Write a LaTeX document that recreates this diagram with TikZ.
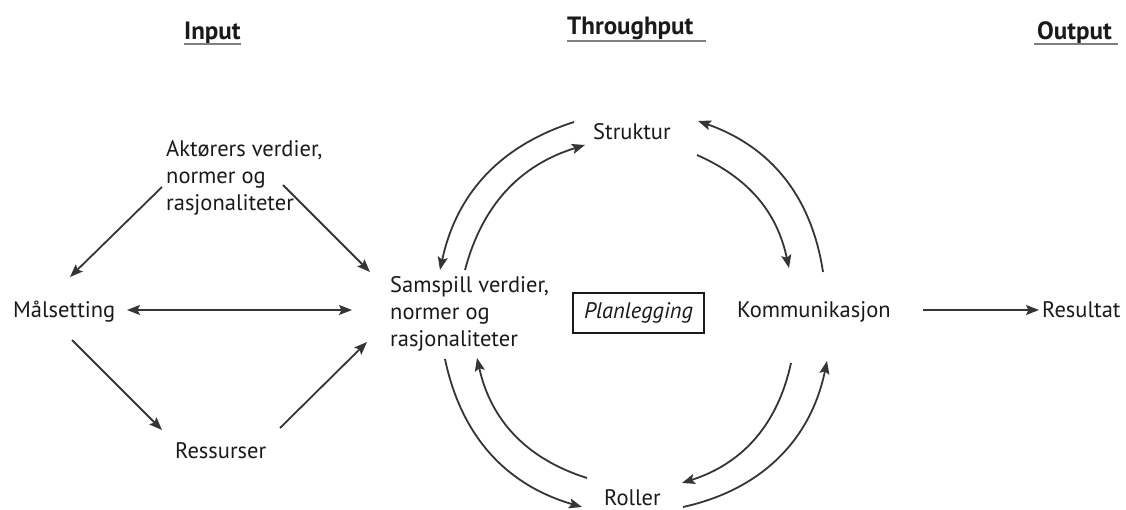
\documentclass[tikz,border=0pt]{standalone}
\usepackage{fontspec}
\setmainfont{PT Sans}
\usetikzlibrary{arrows.meta}
\definecolor{arrc}{HTML}{353535}
\definecolor{txtc}{HTML}{1A1A1A}
\definecolor{ulc}{HTML}{7F7F7F}
\tikzset{
  lbl/.style={inner sep=0pt, text=txtc, font=\fontsize{22.5}{27}\selectfont},
  ttl/.style={inner sep=0pt, text=txtc, font=\fontsize{25}{28}\selectfont\bfseries},
  uline/.style={draw=ulc, line width=1.8pt},
  arr/.style={draw=arrc, line width=1.8pt, -{Stealth[length=13pt,width=10pt,inset=2.5pt]}},
  darr/.style={draw=arrc, line width=1.8pt, {Stealth[length=13pt,width=10pt,inset=2.5pt]}-{Stealth[length=13pt,width=10pt,inset=2.5pt]}},
  pbox/.style={draw=txtc, line width=1.8pt, minimum width=131pt, minimum height=40pt, inner sep=0pt, text=txtc, font=\fontsize{22.5}{27}\selectfont\itshape}
}
\begin{document}
\begin{tikzpicture}[x=1pt,y=1pt]
\useasboundingbox (0,0) rectangle (1126,509);
% titles
\node[ttl, anchor=base west] (inp) at (184,469) {Input};
\node[ttl, anchor=base west] (thr) at (567,474) {Throughput};
\node[ttl, anchor=base west] (outp) at (1037,469) {Output};
\draw[uline] ([yshift=-4pt]inp.base west) -- ([yshift=-4pt]inp.base east);
\draw[uline] ([yshift=-6pt]thr.base west) -- ([yshift=-6pt,xshift=12pt]thr.base east);
\draw[uline] ([yshift=-4pt,xshift=-3pt]outp.base west) -- ([yshift=-4pt,xshift=6pt]outp.base east);
% nodes
\node[lbl, anchor=west, align=left] (akt) at (166,331) {Aktørers verdier,\\normer og\\rasjonaliteter};
\node[lbl, anchor=base west] (mal) at (13,191) {Målsetting};
\node[lbl, anchor=base west] (res) at (175,51) {Ressurser};
\node[lbl, anchor=west, align=left] (sam) at (390,195.5) {Samspill verdier,\\normer og\\rasjonaliteter};
\node[pbox] (plan) at (638.5,196) {Planlegging};
\node[lbl, anchor=base west] (str) at (593,369) {Struktur};
\node[lbl, anchor=base west] (kom) at (737,191) {Kommunikasjon};
\node[lbl, anchor=base west] (rst) at (1042,191) {Resultat};
\node[lbl, anchor=base west] (rol) at (604,4) {Roller};
% connector end points
\coordinate (a1s) at (162,322); \coordinate (a1e) at (70,232);
\coordinate (a2s) at (283,324); \coordinate (a2e) at (370,237);
\coordinate (d1) at (127,199);  \coordinate (d2) at (352,199);
\coordinate (m1s) at (72,169);  \coordinate (m1e) at (162,79);
\coordinate (r1s) at (280,81);  \coordinate (r1e) at (367,167);
\coordinate (s1s) at (574,387); \coordinate (s1e) at (440,239);
\coordinate (s2s) at (465,239); \coordinate (s2e) at (585,364);
\coordinate (s3s) at (697,354); \coordinate (s3e) at (789,241);
\coordinate (s4s) at (823,237); \coordinate (s4e) at (698,388);
\coordinate (s5s) at (445,150); \coordinate (s5e) at (582,2);
\coordinate (s6s) at (587,31);  \coordinate (s6e) at (477,151);
\coordinate (s7s) at (791,146); \coordinate (s7e) at (682,26);
\coordinate (s8s) at (683,2);   \coordinate (s8e) at (827,148);
\coordinate (k1s) at (923,199); \coordinate (k1e) at (1039,199);
% connectors
\draw[arr] (a1s) -- (a1e);
\draw[arr] (a2s) -- (a2e);
\draw[darr] (d1) -- (d2);
\draw[arr] (m1s) -- (m1e);
\draw[arr] (r1s) -- (r1e);
\draw[arr] (s1s) to[bend right=30] (s1e);
\draw[arr] (s2s) to[bend left=29] (s2e);
\draw[arr] (s3s) to[bend left=27] (s3e);
\draw[arr] (s4s) to[bend right=31] (s4e);
\draw[arr] (s5s) to[bend right=31] (s5e);
\draw[arr] (s6s) to[bend left=30] (s6e);
\draw[arr] (s7s) to[bend left=30] (s7e);
\draw[arr] (s8s) to[bend right=33] (s8e);
\draw[arr] (k1s) -- (k1e);
\end{tikzpicture}
\end{document}
